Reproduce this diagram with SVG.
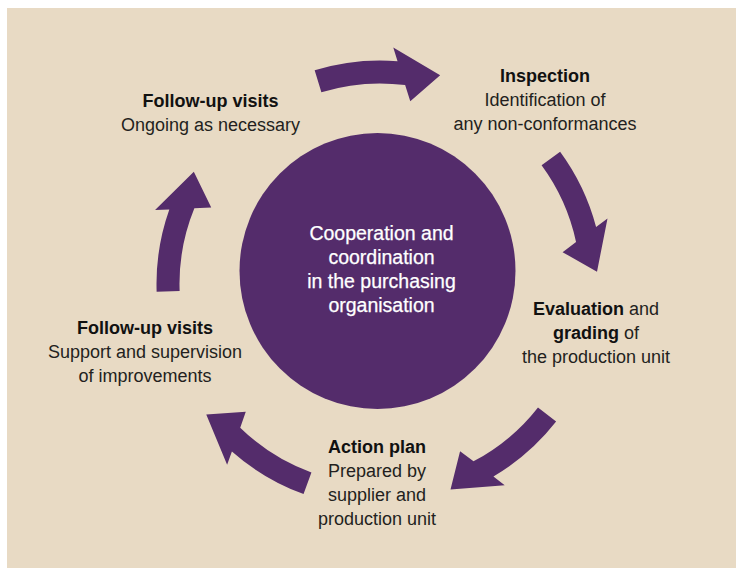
<svg xmlns="http://www.w3.org/2000/svg" xmlns:xlink="http://www.w3.org/1999/xlink" width="736" height="568" viewBox="0 0 736 568">
  <style>
    .lbl { font-family: "Liberation Sans", Arial, sans-serif; font-size: 18px; fill: #231f20; text-anchor: middle; }
    .b { font-weight: bold; fill: #111111; }
    .hub-text { font-family: "Liberation Sans", Arial, sans-serif; font-size: 19.5px; fill: #ffffff; text-anchor: middle; stroke: #ffffff; stroke-width: 0.25px; }
    .arrow { fill: #542c6b; }
  </style>
  <defs>
    <!-- One curved arrow segment on a ring of radius 212 around the origin,
         tail at 0 degrees, running clockwise to a skewed arrowhead. -->
    <path id="ring-arrow" d="M 223.5 0 A 223.5 223.5 0 0 1 207.95 81.91 L 222.19 81.82 L 182.14 118.6 L 166 82.42 L 182.88 82.19 A 200.5 200.5 0 0 0 200.5 0 Z"/>
  </defs>

  <!-- page background -->
  <rect x="7" y="8" width="729" height="560" fill="#e8dac4"/>

  <!-- cycle arrows -->
  <g id="connectors" class="arrow">
    <use xlink:href="#ring-arrow" href="#ring-arrow" transform="translate(380 284) rotate(-107)"/>
    <use xlink:href="#ring-arrow" href="#ring-arrow" transform="translate(380 284) rotate(-36.3)"/>
    <use xlink:href="#ring-arrow" href="#ring-arrow" transform="translate(380 284) rotate(38)"/>
    <use xlink:href="#ring-arrow" href="#ring-arrow" transform="translate(380 284) rotate(110)"/>
    <use xlink:href="#ring-arrow" href="#ring-arrow" transform="translate(380 284) rotate(178)"/>
  </g>

  <!-- central hub -->
  <g id="hub">
    <circle cx="377.5" cy="271" r="138" fill="#542c6b"/>
    <text class="hub-text" x="381.5" y="240">Cooperation and</text>
    <text class="hub-text" x="381.5" y="264">coordination</text>
    <text class="hub-text" x="381.5" y="288">in the purchasing</text>
    <text class="hub-text" x="381.5" y="312">organisation</text>
  </g>

  <g id="inspection">
    <text class="lbl b" x="545" y="82">Inspection</text>
    <text class="lbl" x="545" y="106">Identification of</text>
    <text class="lbl" x="545" y="130">any non-conformances</text>
  </g>

  <g id="evaluation">
    <text class="lbl" x="596" y="315"><tspan class="b">Evaluation</tspan> and</text>
    <text class="lbl" x="596" y="339"><tspan class="b">grading</tspan> of</text>
    <text class="lbl" x="596" y="363">the production unit</text>
  </g>

  <g id="action-plan">
    <text class="lbl b" x="377" y="453">Action plan</text>
    <text class="lbl" x="377" y="477">Prepared by</text>
    <text class="lbl" x="377" y="501">supplier and</text>
    <text class="lbl" x="377" y="525">production unit</text>
  </g>

  <g id="follow-up-support">
    <text class="lbl b" x="145" y="334">Follow-up visits</text>
    <text class="lbl" x="145" y="358">Support and supervision</text>
    <text class="lbl" x="145" y="382">of improvements</text>
  </g>

  <g id="follow-up-ongoing">
    <text class="lbl b" x="210.5" y="107">Follow-up visits</text>
    <text class="lbl" x="210.5" y="131">Ongoing as necessary</text>
  </g>
</svg>
